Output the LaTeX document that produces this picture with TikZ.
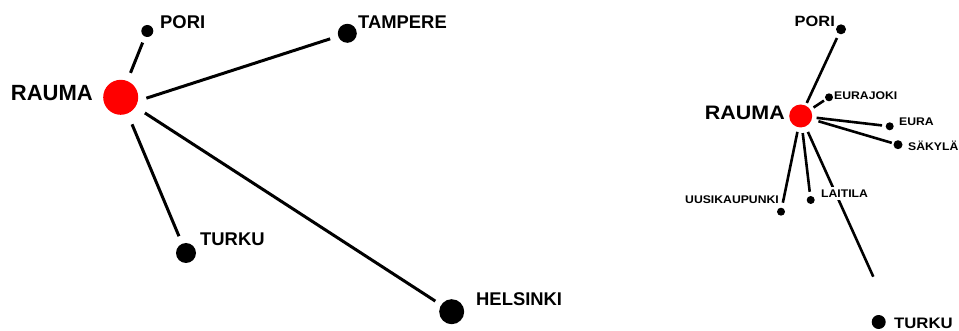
\documentclass[tikz,border=0pt]{standalone}
\usepackage{fontspec}
\setmainfont{Liberation Sans}
\newfontfamily\wideF{Liberation Sans}[FakeStretch=1.1]
\begin{document}
\begin{tikzpicture}[x=1pt,y=-1pt,
  dot/.style={circle,fill=black,inner sep=0pt,outer sep=0pt,minimum size=#1},
  hub/.style={circle,fill=red,inner sep=0pt,outer sep=0pt,minimum size=#1},
  lab/.style={inner sep=0pt,font=\bfseries\fontsize{#1}{#1}\selectfont},
  rlab/.style={inner sep=0pt,fill=white,font=\wideF\bfseries\fontsize{#1}{#1}\selectfont},
  ledge/.style={line width=3pt},
  redge/.style={line width=2.6pt}]
\useasboundingbox (0,0) rectangle (959,331);
% ---------- left graph ----------
\node[hub=35pt] (lrauma) at (120.7,97.3) {};
\node[dot=12pt] (lpori) at (147.3,31) {};
\node[dot=19pt] (ltampere) at (347.3,33.3) {};
\node[dot=20pt] (lturku) at (186,253) {};
\node[dot=25pt] (lhelsinki) at (451.7,311.7) {};
\draw[ledge,shorten <=8.8pt,shorten >=6.5pt] (lrauma) -- (lpori);
\draw[ledge,shorten <=9pt,shorten >=8.5pt] (lrauma.-12) -- (ltampere);
\draw[ledge,shorten <=11.8pt,shorten >=8.2pt] (lrauma) -- (lturku);
\draw[ledge,shorten <=11.3pt,shorten >=7pt] (lrauma) -- (lhelsinki);
\node[lab=22,anchor=base east] (lraumaL) at (93,100.8) {RAUMA};
\node[lab=18.4,anchor=base west] (lporiL) at (160,28.3) {PORI};
\node[lab=18.4,anchor=base west] (ltampereL) at (358,28.3) {TAMPERE};
\node[lab=18.4,anchor=base west] (lturkuL) at (200,246) {TURKU};
\node[lab=18.4,anchor=base west] (lhelsinkiL) at (476,305.6) {HELSINKI};
% ---------- right graph ----------
\node[hub=23pt] (rrauma) at (800.7,116) {};
\node[dot=10pt] (rpori) at (841,29.3) {};
\node[dot=8pt] (reurajoki) at (829,97.3) {};
\node[dot=8pt] (reura) at (889.7,126.3) {};
\node[dot=9pt] (rsakyla) at (898,144.7) {};
\node[dot=8pt] (ruusi) at (781,211.7) {};
\node[dot=8pt] (rlaitila) at (810.7,200) {};
\node[dot=14pt] (rturku) at (878.7,322) {};
\coordinate (rturkuEnd) at (873.3,276.7);
\draw[redge,shorten <=2.9pt,shorten >=4.6pt] (rrauma) -- (rpori);
\draw[redge,shorten <=3.9pt,shorten >=2pt] (rrauma) -- (reurajoki);
\draw[redge,shorten <=4.5pt,shorten >=3.7pt] (rrauma) -- (reura);
\draw[redge,shorten <=7pt,shorten >=2pt] (rrauma) -- (rsakyla);
\draw[redge,shorten <=4.7pt,shorten >=5.2pt] (rrauma) -- (ruusi);
\draw[redge,shorten <=5.7pt,shorten >=4.3pt] (rrauma) -- (rlaitila);
\draw[redge,shorten <=6pt] (rrauma) -- (rturkuEnd);
\node[rlab=19.5,anchor=base east] (rraumaL) at (785,120) {RAUMA};
\node[rlab=14.9,anchor=base east] (rporiL) at (835,26.7) {PORI};
\node[rlab=11.1,anchor=base west] (reurajokiL) at (834,100) {EURAJOKI};
\node[rlab=11.1,anchor=base west] (reuraL) at (899,126) {EURA};
\node[rlab=11.1,anchor=base west] (rsakylaL) at (908,150.7) {SÄKYLÄ};
\node[rlab=11.1,anchor=base west,inner xsep=1pt,inner ysep=3pt] (rlaitilaL) at (820,197.3) {LAITILA};
\node[rlab=11.1,anchor=base west] (ruusiL) at (685,204) {UUSIKAUPUNKI};
\node[rlab=15.2,anchor=base west] (rturkuL) at (894,328.3) {TURKU};
\end{tikzpicture}
\end{document}
